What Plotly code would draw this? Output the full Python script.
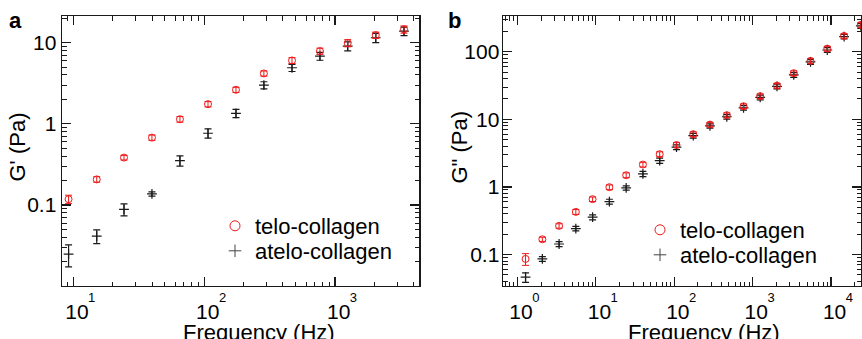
import plotly.graph_objects as go

# ---------------- data ----------------
# panel a : storage modulus G'
freq_a = [9.2, 15.1, 24.4, 39.9, 65.3, 107, 175, 286, 469, 767, 1250, 2047, 3365]
telo_Gp = [0.118, 0.207, 0.384, 0.677, 1.14, 1.75, 2.63, 4.18, 6.04, 7.87, 9.9, 12.4, 14.6]
telo_Gp_err = [0.014, 0.016, 0.025, 0.05, 0.09, 0.13, 0.19, 0.3, 0.5, 0.7, 1.0, 1.1, 1.5]
atelo_Gp = [0.0248, 0.0414, 0.0885, 0.137, 0.352, 0.766, 1.35, 3.0, 4.91, 6.83, 9.07, 11.5, 13.9]
atelo_Gp_err = [0.0075, 0.008, 0.015, 0.008, 0.05, 0.1, 0.16, 0.3, 0.49, 0.75, 1.15, 1.5, 1.7]

# panel b : loss modulus G''
freq_b = [1.27, 2.08, 3.40, 5.56, 9.1, 14.9, 24.4, 39.9, 65.3, 107, 175, 286, 469,
          767, 1250, 2047, 3350, 5480, 8970, 14700, 24000]
telo_Gpp = [0.086, 0.168, 0.265, 0.427, 0.658, 0.99, 1.49, 2.14, 3.05, 4.17, 6.02,
            8.35, 11.5, 15.6, 22.0, 31.5, 48.1, 73.1, 111, 171, 249]
telo_Gpp_err = [0.017, 0.012, 0.02, 0.035, 0.05, 0.08, 0.12, 0.17, 0.25, 0.35, 0.5,
                0.65, 0.9, 1.2, 1.7, 2.5, 3.8, 5.8, 9, 13, 20]
atelo_Gpp = [0.0462, 0.086, 0.143, 0.242, 0.356, 0.606, 0.966, 1.56, 2.45, 3.87, 5.72,
             7.98, 10.9, 14.8, 21.1, 30.7, 45.4, 70.6, 106, 167, 241]
atelo_Gpp_err = [0.0074, 0.007, 0.012, 0.018, 0.03, 0.05, 0.07, 0.14, 0.22, 0.3, 0.45,
                 0.6, 0.85, 1.15, 1.7, 2.5, 3.6, 5.5, 8.5, 13, 19]

series_names = ["telo-collagen", "atelo-collagen"]

# tick labels
xtick_vals_a = [10, 100, 1000]
xtick_exp_a = ["1", "2", "3"]
xtick_vals_b = [1, 10, 100, 1000, 10000]
xtick_exp_b = ["0", "1", "2", "3", "4"]
ytick_vals_a = [0.1, 1, 10]
ytick_text_a = ["0.1", "1", "10"]
ytick_vals_b = [0.1, 1, 10, 100]
ytick_text_b = ["0.1", "1", "10", "100"]

# ---------------- style ----------------
W, H = 862, 339
FONT = "Liberation Sans, Arial, sans-serif"
BIG = 21
TXT = 22
RED = "#f01818"
BLK = "#1a1a1a"
CLEAR = "rgba(255,255,255,0)"


def px_x(p):
    return p / W


def px_y(p):
    return 1 - p / H


def power_labels(exps):
    out = []
    for e in exps:
        top = (f"<span style='color:{CLEAR};font-size:13px'>11</span>"
               f"<span style='color:{CLEAR};font-size:{BIG}px'>10</span>{e}")
        bottom = (f"<span style='color:{CLEAR};font-size:13px'>1</span>"
                  f"<span style='font-size:{BIG}px'>10</span>")
        out.append(top + "<br>" + bottom)
    return out


def minor_vals(d0, d1):
    return [k * 10 ** d for d in range(d0, d1) for k in range(2, 10)]


fig = go.Figure()


def add_panel(xa, ya, x, yr, er, yb, eb, leg_r, leg_b):
    fig.add_trace(go.Scatter(
        x=x, y=yb, mode="markers", xaxis=xa, yaxis=ya, showlegend=False,
        marker=dict(symbol="cross-thin", size=7, color=BLK, line=dict(color=BLK, width=1.2)),
        error_y=dict(type="data", array=eb, visible=True, color=BLK, thickness=1.2, width=3.5),
    ))
    fig.add_trace(go.Scatter(
        x=x, y=yr, mode="markers", xaxis=xa, yaxis=ya, showlegend=False,
        marker=dict(symbol="circle-open", size=7, color=RED, line=dict(color=RED, width=1)),
        error_y=dict(type="data", array=er, visible=True, color=RED, thickness=1, width=3.5),
    ))
    # legend entries
    fig.add_trace(go.Scatter(
        x=[None], y=[None], mode="markers", xaxis=xa, yaxis=ya, name=series_names[0],
        legend=leg_r, marker=dict(symbol="circle-open", size=10, color=RED,
                                  line=dict(color=RED, width=1)),
    ))
    fig.add_trace(go.Scatter(
        x=[None], y=[None], mode="markers", xaxis=xa, yaxis=ya, name=series_names[1],
        legend=leg_b, marker=dict(symbol="cross-thin", size=9, color="#444",
                                  line=dict(color="#444", width=1)),
    ))


add_panel("x", "y", freq_a, telo_Gp, telo_Gp_err, atelo_Gp, atelo_Gp_err, "legend", "legend2")
add_panel("x2", "y2", freq_b, telo_Gpp, telo_Gpp_err, atelo_Gpp, atelo_Gpp_err, "legend3", "legend4")

common = dict(
    type="log", showline=True, linecolor=BLK, linewidth=1.4, mirror="allticks",
    ticks="inside", ticklen=9, tickwidth=1.2, tickcolor=BLK, showgrid=False, zeroline=False,
    automargin=False,
)
xcommon = dict(common, tickfont=dict(size=13, color="black"), ticklabelstandoff=-1)
ycommon = dict(common, tickfont=dict(size=BIG, color="black"))
minor_style = dict(tickmode="array", ticks="inside", ticklen=4.5, tickwidth=1, tickcolor=BLK)


def leg(xp, yp):
    return dict(x=px_x(xp), y=px_y(yp), xanchor="left", yanchor="middle",
                bgcolor="rgba(0,0,0,0)", font=dict(size=TXT, color="black"))


fig.update_layout(
    template="plotly_white",
    width=W, height=H, margin=dict(l=0, r=0, t=0, b=0, autoexpand=False),
    paper_bgcolor="white", plot_bgcolor="white",
    font=dict(family=FONT, size=BIG, color="black"),
    hovermode=False,
    xaxis=dict(xcommon, domain=[px_x(62), px_x(419.3)], range=[0.9136, 3.644], anchor="y",
               tickmode="array", tickvals=xtick_vals_a, ticktext=power_labels(xtick_exp_a),
               minor=dict(minor_style, tickvals=minor_vals(0, 4))),
    yaxis=dict(ycommon, domain=[px_y(286), px_y(16)], range=[-1.998, 1.329], anchor="x",
               tickmode="array", tickvals=ytick_vals_a, ticktext=ytick_text_a,
               minor=dict(minor_style, tickvals=minor_vals(-2, 2))),
    xaxis2=dict(xcommon, domain=[px_x(503), px_x(861)], range=[-0.184, 4.383], anchor="y2",
                tickmode="array", tickvals=xtick_vals_b, ticktext=power_labels(xtick_exp_b),
                minor=dict(minor_style, tickvals=minor_vals(-1, 5))),
    yaxis2=dict(ycommon, domain=[px_y(286), px_y(16)], range=[-1.466, 2.528], anchor="x2",
                tickmode="array", tickvals=ytick_vals_b, ticktext=ytick_text_b,
                ticklabelstandoff=-2,
                minor=dict(minor_style, tickvals=minor_vals(-2, 3))),
    legend=leg(215, 226),
    legend2=leg(215, 251),
    legend3=leg(640, 230),
    legend4=leg(640, 255),
)

annots = [
    dict(text="<b>a</b>", x=px_x(7), y=px_y(21), xanchor="left", yanchor="middle"),
    dict(text="<b>b</b>", x=px_x(446), y=px_y(21), xanchor="left", yanchor="middle"),
    dict(text="Frequency (Hz)", x=px_x(258.7), y=px_y(332.5), xanchor="center", yanchor="middle"),
    dict(text="Frequency (Hz)", x=px_x(703.7), y=px_y(332.5), xanchor="center", yanchor="middle"),
    dict(text="G' (Pa)", x=px_x(16.5), y=px_y(147), textangle=-90, xanchor="center", yanchor="middle"),
    dict(text='G" (Pa)', x=px_x(458.5), y=px_y(147), textangle=-90, xanchor="center", yanchor="middle"),
]
for a in annots:
    fig.add_annotation(xref="paper", yref="paper", showarrow=False,
                       font=dict(family=FONT, size=TXT, color="black"), **a)

fig.write_html("out.html", config={"displayModeBar": False, "staticPlot": True},
               post_script="document.body.style.margin='0px';")
